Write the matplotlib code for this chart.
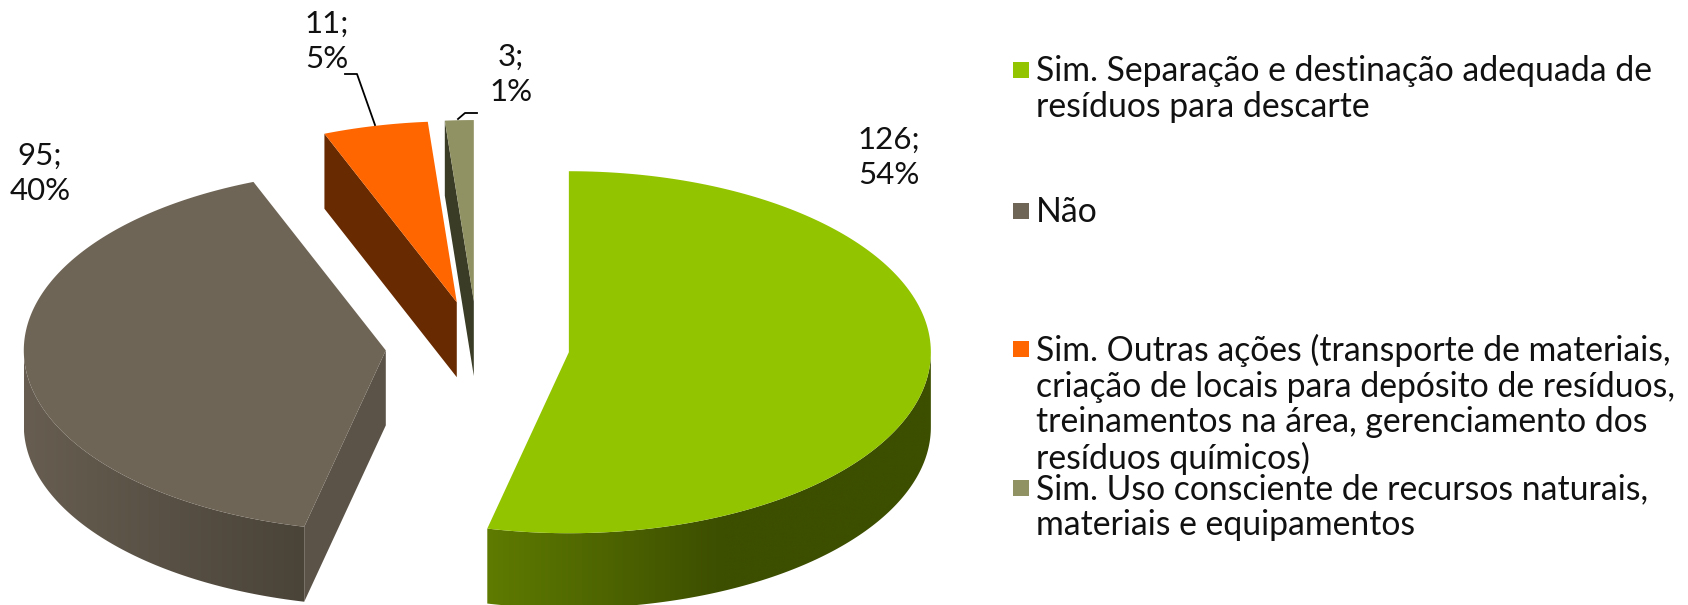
import numpy as np
import matplotlib
matplotlib.use("Agg")
import matplotlib.pyplot as plt
from matplotlib.colors import LinearSegmentedColormap
from matplotlib.patches import Polygon, Rectangle

# dados do grafico
categories = [
    "Sim. Separação e destinação adequada de\nresíduos para descarte",
    "Não",
    "Sim. Outras ações (transporte de materiais,\ncriação de locais para depósito de resíduos,\ntreinamentos na área, gerenciamento dos\nresíduos químicos)",
    "Sim. Uso consciente de recursos naturais,\nmateriais e equipamentos",
]
values = [126, 95, 11, 3]

top_colors = ["#92c400", "#6f6556", "#ff6600", "#919264"]
cut_colors = ["#3c4e00", "#5b5347", "#682a00", "#3a3c26"]
wall_stops = [
    [(0.0, "#5f7b00"), (0.53, "#3c4e00"), (1.0, "#3c4e00")],
    [(0.0, "#675e51"), (1.0, "#4a4338")],
    [(0.0, "#682a00"), (1.0, "#682a00")],
    [(0.0, "#3a3c26"), (1.0, "#3a3c26")],
]

# layout em pixels da figura
W, H = 1688, 605
CX, CY = 477.5, 347
RX, RY = 362, 181
DEPTH = 75
EXPLODE = 0.254

FONT = "Lato"
FS = 24.3
FS_LABEL = 22.5

label_pos = [(889, 157), (40, 173), (327, 41), (511, 74)]
leaders = [None, None, [(345, 74), (357, 74), (375, 125)], [(477, 113), (465, 113), (458, 119)]]
legend_y = [70, 211, 349, 488]

fig = plt.figure(figsize=(W / 100, H / 100), dpi=100)
ax = fig.add_axes([0, 0, 1, 1])
ax.axis("off")


def arc(cx, cy, a, b, n=200):
    t = np.radians(np.linspace(a, b, n))
    return np.column_stack([cx + RX * np.sin(t), cy - RY * np.cos(t)])


total = sum(values)
start = 0.0
for i, v in enumerate(values):
    sweep = v / total * 360
    end = start + sweep
    mid = np.radians(start + sweep / 2)
    cx = CX + EXPLODE * RX * np.sin(mid)
    cy = CY - EXPLODE * RY * np.cos(mid)

    # parede externa, so a parte virada para baixo aparece
    a, b = max(start, 90), min(end, 270)
    if a < b:
        edge = arc(cx, cy, a, b)
        pts = np.vstack([edge, edge[::-1] + [0, DEPTH]])
        cmap = LinearSegmentedColormap.from_list(f"w{i}", wall_stops[i])
        x0, x1 = edge[:, 0].min(), edge[:, 0].max()
        im = ax.imshow(np.linspace(0, 1, 256)[None, :], cmap=cmap, aspect="auto",
                       extent=(x0, x1, pts[:, 1].max(), pts[:, 1].min()),
                       interpolation="bilinear", zorder=2)
        im.set_clip_path(Polygon(pts, transform=ax.transData))

    # faces de corte visiveis
    for ang, visible in ((start, np.sin(np.radians(start)) < -1e-6),
                         (end, np.sin(np.radians(end)) > 1e-6)):
        if visible:
            p = arc(cx, cy, ang, ang, 1)[0]
            ax.add_patch(Polygon([(cx, cy), p, p + [0, DEPTH], (cx, cy + DEPTH)],
                                 facecolor=cut_colors[i], edgecolor="none", zorder=3))

    # topo
    top = np.vstack([[(cx, cy)], arc(cx, cy, start, end)])
    ax.add_patch(Polygon(top, facecolor=top_colors[i], edgecolor="none", zorder=4))

    # rotulo
    lx, ly = label_pos[i]
    ax.text(lx, ly, f"{v};\n{round(v / total * 100)}%", ha="center", va="center",
            family=FONT, fontsize=FS_LABEL, color="#111111", linespacing=1.32, zorder=6)
    if leaders[i]:
        xs, ys = zip(*leaders[i])
        ax.plot(xs, ys, color="black", lw=1.3, zorder=5)

    # legenda
    ax.add_patch(Rectangle((1013, legend_y[i] - 8), 16, 16, facecolor=top_colors[i],
                           edgecolor="none", zorder=4))
    ax.text(1036, legend_y[i] - 15, categories[i], ha="left", va="top", family=FONT,
            fontsize=FS, color="#111111", linespacing=1.14, zorder=6)

    start = end

ax.set_xlim(0, W)
ax.set_ylim(H, 0)

fig.savefig("out.png", dpi=100, facecolor="white")
